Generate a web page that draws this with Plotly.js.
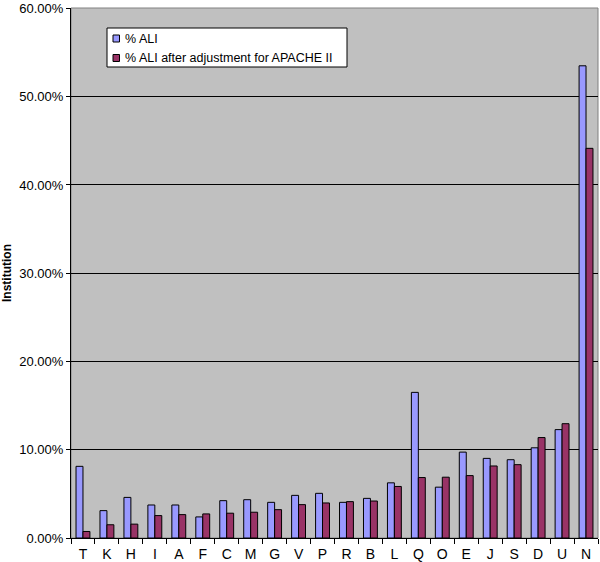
<!DOCTYPE html>
<html><head><meta charset="utf-8">
<script src="https://cdn.plot.ly/plotly-3.0.1.min.js"></script>
<style>html,body{margin:0;padding:0;background:#fff;}#chart{width:600px;height:562px;}</style>
</head><body><div id="chart"></div>
<script>
const categories = ["T","K","H","I","A","F","C","M","G","V","P","R","B","L","Q","O","E","J","S","D","U","N"];
const aliPct = [0.0812,0.031,0.046,0.0374,0.0374,0.0239,0.0423,0.0434,0.0404,0.0483,0.0506,0.0404,0.0449,0.0625,0.165,0.0576,0.0973,0.0902,0.0887,0.1022,0.1228,0.535];
const aliAdjPct = [0.0074,0.015,0.0157,0.0254,0.0265,0.0273,0.0281,0.0292,0.0321,0.0378,0.0397,0.0412,0.0419,0.0584,0.0685,0.0689,0.0707,0.0816,0.0831,0.1138,0.1295,0.4415];
const yTicks = [0,0.1,0.2,0.3,0.4,0.5,0.6];
const yTickLabels = ["0.00%","10.00%","20.00%","30.00%","40.00%","50.00%","60.00%"];
const seriesNames = ["% ALI","% ALI after adjustment for APACHE II"];
const seriesColors = ["#9999FF","#993366"];

const FAM = "Liberation Sans, Arial, sans-serif";
const data = [
  {type:"bar", name:seriesNames[0], x:categories, y:aliPct, showlegend:false,
   marker:{color:seriesColors[0], line:{color:"#000", width:1}}},
  {type:"bar", name:seriesNames[1], x:categories, y:aliAdjPct, showlegend:false,
   marker:{color:seriesColors[1], line:{color:"#000", width:1}}}
];

// plot area in pixels: x 71..598, y 8..538
const PL = 71, PR = 598, PT = 8, PB = 538;
const px = v => (v - PL) / (PR - PL);
const py = v => (PB - v) / (PB - PT);

const shapes = [
  {type:"rect", xref:"paper", yref:"paper", x0:0, x1:1, y0:0, y1:1,
   line:{color:"#808080", width:1}, fillcolor:"rgba(0,0,0,0)", layer:"below"},
  {type:"rect", xref:"paper", yref:"paper", x0:px(107), x1:px(347), y0:py(67), y1:py(28),
   line:{color:"#000", width:1}, fillcolor:"#fff", layer:"above"}
];
const annotations = [];
const rowsY = [38.5, 58];
seriesNames.forEach((nm, i) => {
  shapes.push({type:"rect", xref:"paper", yref:"paper", x0:px(113), x1:px(119.5),
    y0:py(rowsY[i]+3.5), y1:py(rowsY[i]-3.5),
    line:{color:"#000", width:1}, fillcolor:seriesColors[i], layer:"above"});
  annotations.push({xref:"paper", yref:"paper", x:px(123), y:py(rowsY[i]),
    xanchor:"left", yanchor:"middle", showarrow:false, text:nm,
    font:{family:FAM, size:12.5, color:"#000"}});
});

const layout = {
  width:600, height:562,
  margin:{l:PL, r:600-PR, t:PT, b:562-PB},
  paper_bgcolor:"#fff", plot_bgcolor:"#C0C0C0",
  font:{family:FAM, size:13, color:"#000"},
  barmode:"group", bargap:0.42, bargroupgap:0,
  showlegend:false,
  xaxis:{type:"category", categoryorder:"array", categoryarray:categories,
    showline:true, linecolor:"#000", linewidth:1,
    ticks:"outside", ticklen:5, tickcolor:"#000", tickson:"boundaries",
    ticklabelstandoff:3,
    showgrid:false, tickfont:{family:FAM, size:14, color:"#000"},
    range:[-0.5, categories.length-0.5], fixedrange:true},
  yaxis:{range:[0,0.6005], tickvals:yTicks, ticktext:yTickLabels,
    showline:true, linecolor:"#000", linewidth:1,
    ticks:"outside", ticklen:4, tickcolor:"#000", ticklabeloverflow:"allow",
    showgrid:true, gridcolor:"#000", gridwidth:1, zeroline:false,
    tickfont:{family:FAM, size:13, color:"#000"},
    title:{text:"<b>Institution</b>", font:{family:FAM, size:12, color:"#000"}, standoff:6},
    fixedrange:true},
  shapes:shapes,
  annotations:annotations
};
Plotly.newPlot("chart", data, layout, {displayModeBar:false, staticPlot:true});
</script></body></html>
